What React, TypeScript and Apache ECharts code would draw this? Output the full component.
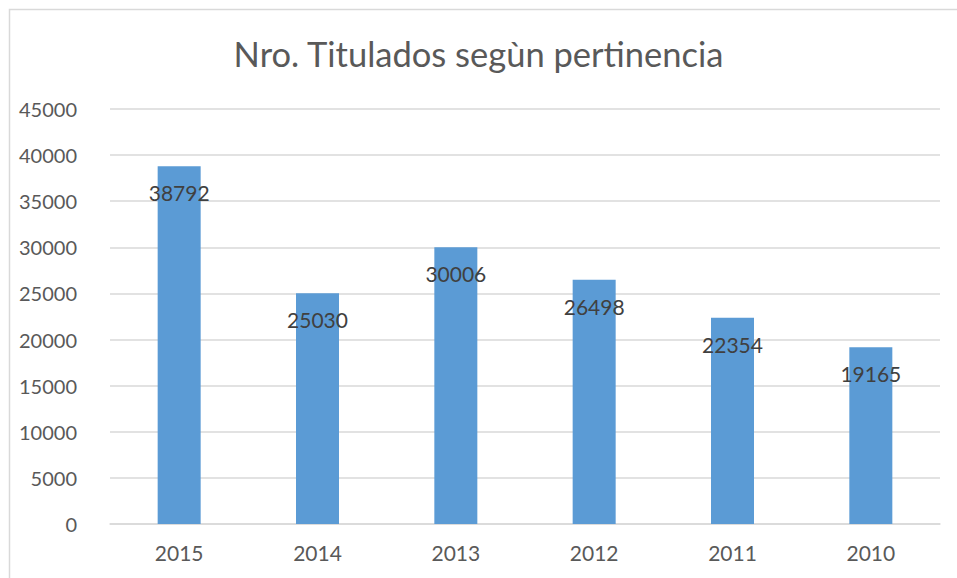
import React, { useEffect, useRef } from "react";
import * as echarts from "echarts";

const categories = ["2015", "2014", "2013", "2012", "2011", "2010"];
const values = [38792, 25030, 30006, 26498, 22354, 19165];
const yTicks = { min: 0, max: 45000, interval: 5000 };
const title = "Nro. Titulados segùn pertinencia";

export default function App() {
  const ref = useRef<HTMLDivElement>(null);
  useEffect(() => {
    if (!ref.current) return;
    const chart = echarts.init(ref.current, null, { renderer: "svg" });
    const font = "Lato, 'Open Sans', sans-serif";
    chart.setOption({
      animation: false,
      backgroundColor: "#ffffff",
      title: {
        text: title,
        left: "center",
        top: 31,
        textStyle: { fontFamily: font, fontSize: 34.5, fontWeight: "normal", color: "#595959" },
      },
      graphic: [
        {
          type: "rect",
          shape: { x: 9.5, y: 9.5, width: 1000, height: 1000 },
          style: { fill: "none", stroke: "#d9d9d9", lineWidth: 1.5 },
          silent: true,
        },
      ],
      grid: { left: 110, right: 17, top: 109, bottom: 54, containLabel: false },
      xAxis: {
        type: "category",
        data: categories,
        axisLine: { show: true, lineStyle: { color: "#d9d9d9", width: 1.5 } },
        axisTick: { show: false },
        axisLabel: { fontFamily: font, fontSize: 21, color: "#595959", margin: 18 },
      },
      yAxis: {
        type: "value",
        min: yTicks.min,
        max: yTicks.max,
        interval: yTicks.interval,
        axisLine: { show: false },
        axisTick: { show: false },
        splitLine: { lineStyle: { color: "#d9d9d9", width: 1.5 } },
        axisLabel: {
          fontFamily: font,
          fontSize: 20,
          color: "#595959",
          margin: 33,
          formatter: (v: number) => String(v),
        },
      },
      series: [
        {
          type: "bar",
          data: values,
          barWidth: 43,
          itemStyle: { color: "#5b9bd5" },
          label: {
            show: true,
            position: "insideTop",
            distance: 16,
            fontFamily: font,
            fontSize: 21,
            color: "#404040",
          },
        },
      ],
    });
    return () => chart.dispose();
  }, []);
  return (
    <div
      ref={ref}
      style={{ position: "fixed", left: 0, top: 0, width: 957, height: 578 }}
    />
  );
}
